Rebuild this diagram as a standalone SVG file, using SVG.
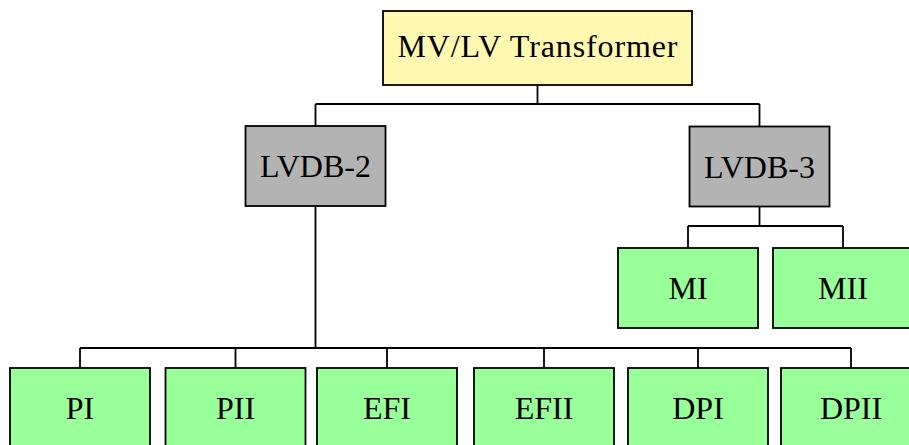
<svg xmlns="http://www.w3.org/2000/svg" width="909" height="445" viewBox="0 0 909 445">
  <style>
    .box { stroke: #000; stroke-width: 1.8; }
    .src { fill: #fff8b0; }
    .db { fill: #b3b3b3; }
    .load { fill: #99ff99; }
    .lbl { font-family: "Liberation Serif", "Times New Roman", serif; font-size: 32px; fill: #000; text-anchor: middle; }
    .wire { fill: none; stroke: #000; stroke-width: 1.8; }
  </style>
  <rect width="909" height="445" fill="#fff"/>

  <g id="connectors">
    <!-- transformer to distribution boards -->
    <path class="wire" d="M537.5 85 V104 M315.5 104 H759.5 M315.5 104 V126 M759.5 104 V126"/>
    <!-- LVDB-3 to motors -->
    <path class="wire" d="M759.5 207 V226 M688 226 H843 M688 226 V248 M843 226 V248"/>
    <!-- LVDB-2 to bottom loads -->
    <path class="wire" d="M315.5 206 V348 M80 348 H851 M80 348 V368 M235.5 348 V368 M387 348 V368 M544 348 V368 M698 348 V368 M851 348 V368"/>
  </g>

  <g id="transformer">
    <rect class="box src" x="383" y="11" width="309" height="74"/>
    <text class="lbl" x="537.5" y="57" textLength="280" lengthAdjust="spacing">MV/LV Transformer</text>
  </g>
  <g id="lvdb2">
    <rect class="box db" x="245.5" y="126" width="140" height="80"/>
    <text class="lbl" x="315.5" y="177">LVDB-2</text>
  </g>
  <g id="lvdb3">
    <rect class="box db" x="689.5" y="126.5" width="140" height="80"/>
    <text class="lbl" x="759.5" y="177.5">LVDB-3</text>
  </g>
  <g id="mi">
    <rect class="box load" x="618" y="248" width="140" height="80"/>
    <text class="lbl" x="688" y="299">MI</text>
  </g>
  <g id="mii">
    <rect class="box load" x="773" y="248" width="140" height="80"/>
    <text class="lbl" x="843" y="299">MII</text>
  </g>
  <g id="pi">
    <rect class="box load" x="10" y="368" width="140" height="80"/>
    <text class="lbl" x="80" y="419">PI</text>
  </g>
  <g id="pii">
    <rect class="box load" x="165.5" y="368" width="140" height="80"/>
    <text class="lbl" x="235.5" y="419">PII</text>
  </g>
  <g id="efi">
    <rect class="box load" x="317" y="368" width="140" height="80"/>
    <text class="lbl" x="387" y="419">EFI</text>
  </g>
  <g id="efii">
    <rect class="box load" x="474" y="368" width="140" height="80"/>
    <text class="lbl" x="544" y="419">EFII</text>
  </g>
  <g id="dpi">
    <rect class="box load" x="628" y="368" width="140" height="80"/>
    <text class="lbl" x="698" y="419">DPI</text>
  </g>
  <g id="dpii">
    <rect class="box load" x="781" y="368" width="140" height="80"/>
    <text class="lbl" x="851" y="419">DPII</text>
  </g>
</svg>
